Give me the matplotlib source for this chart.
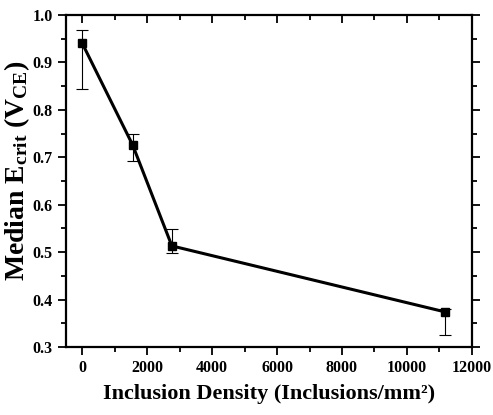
import matplotlib
matplotlib.use("Agg")
import matplotlib.pyplot as plt
import numpy as np
from matplotlib.ticker import MultipleLocator

# inclusion density (inclusions/mm^2) vs median critical field
density = [0, 1550, 2760, 11170]
median_e = [0.940, 0.726, 0.513, 0.374]
err_low = [0.843, 0.693, 0.498, 0.325]
err_high = [0.968, 0.750, 0.548, 0.380]

plt.rcParams["font.family"] = ["Liberation Serif", "DejaVu Serif"]
plt.rcParams["font.weight"] = "bold"
plt.rcParams["mathtext.fontset"] = "custom"
plt.rcParams["mathtext.rm"] = "Liberation Serif:bold"
plt.rcParams["mathtext.it"] = "Liberation Serif:bold"
plt.rcParams["mathtext.bf"] = "Liberation Serif:bold"

y = np.array(median_e)
yerr = [y - np.array(err_low), np.array(err_high) - y]

fig = plt.figure(figsize=(4.93, 4.15), dpi=100)
ax = fig.add_axes([0.134, 0.164, 0.823, 0.800])

ax.errorbar(density, median_e, yerr=yerr, color="black", linewidth=2.2,
            marker="s", markersize=6, ecolor="black", elinewidth=0.8,
            capsize=4, capthick=0.8)

ax.set_xlim(-500, 12000)
ax.set_ylim(0.3, 1.0)
ax.xaxis.set_major_locator(MultipleLocator(2000))
ax.xaxis.set_minor_locator(MultipleLocator(1000))
ax.yaxis.set_major_locator(MultipleLocator(0.1))
ax.yaxis.set_minor_locator(MultipleLocator(0.05))

for s in ax.spines.values():
    s.set_linewidth(1.6)

ax.tick_params(which="both", top=True, right=True, width=1.3, labelsize=11.5)
ax.tick_params(which="major", length=6)
ax.tick_params(which="minor", length=3.5)
ax.tick_params(which="both", direction="out")
# top / right ticks point into the axes
for t in ax.xaxis.get_ticklines(minor=False)[1::2] + ax.xaxis.get_ticklines(minor=True)[1::2]:
    t.set_marker(3)
for t in ax.yaxis.get_ticklines(minor=False)[1::2] + ax.yaxis.get_ticklines(minor=True)[1::2]:
    t.set_marker(1)

ax.set_xlabel("Inclusion Density (Inclusions/mm²)", fontsize=16, fontweight="bold", labelpad=6)
ax.set_ylabel("Median E$_{crit}$ (V$_{CE}$)", fontsize=20, fontweight="bold")
ax.yaxis.set_label_coords(-0.083, 0.53)

fig.savefig("out.png", dpi=100)
